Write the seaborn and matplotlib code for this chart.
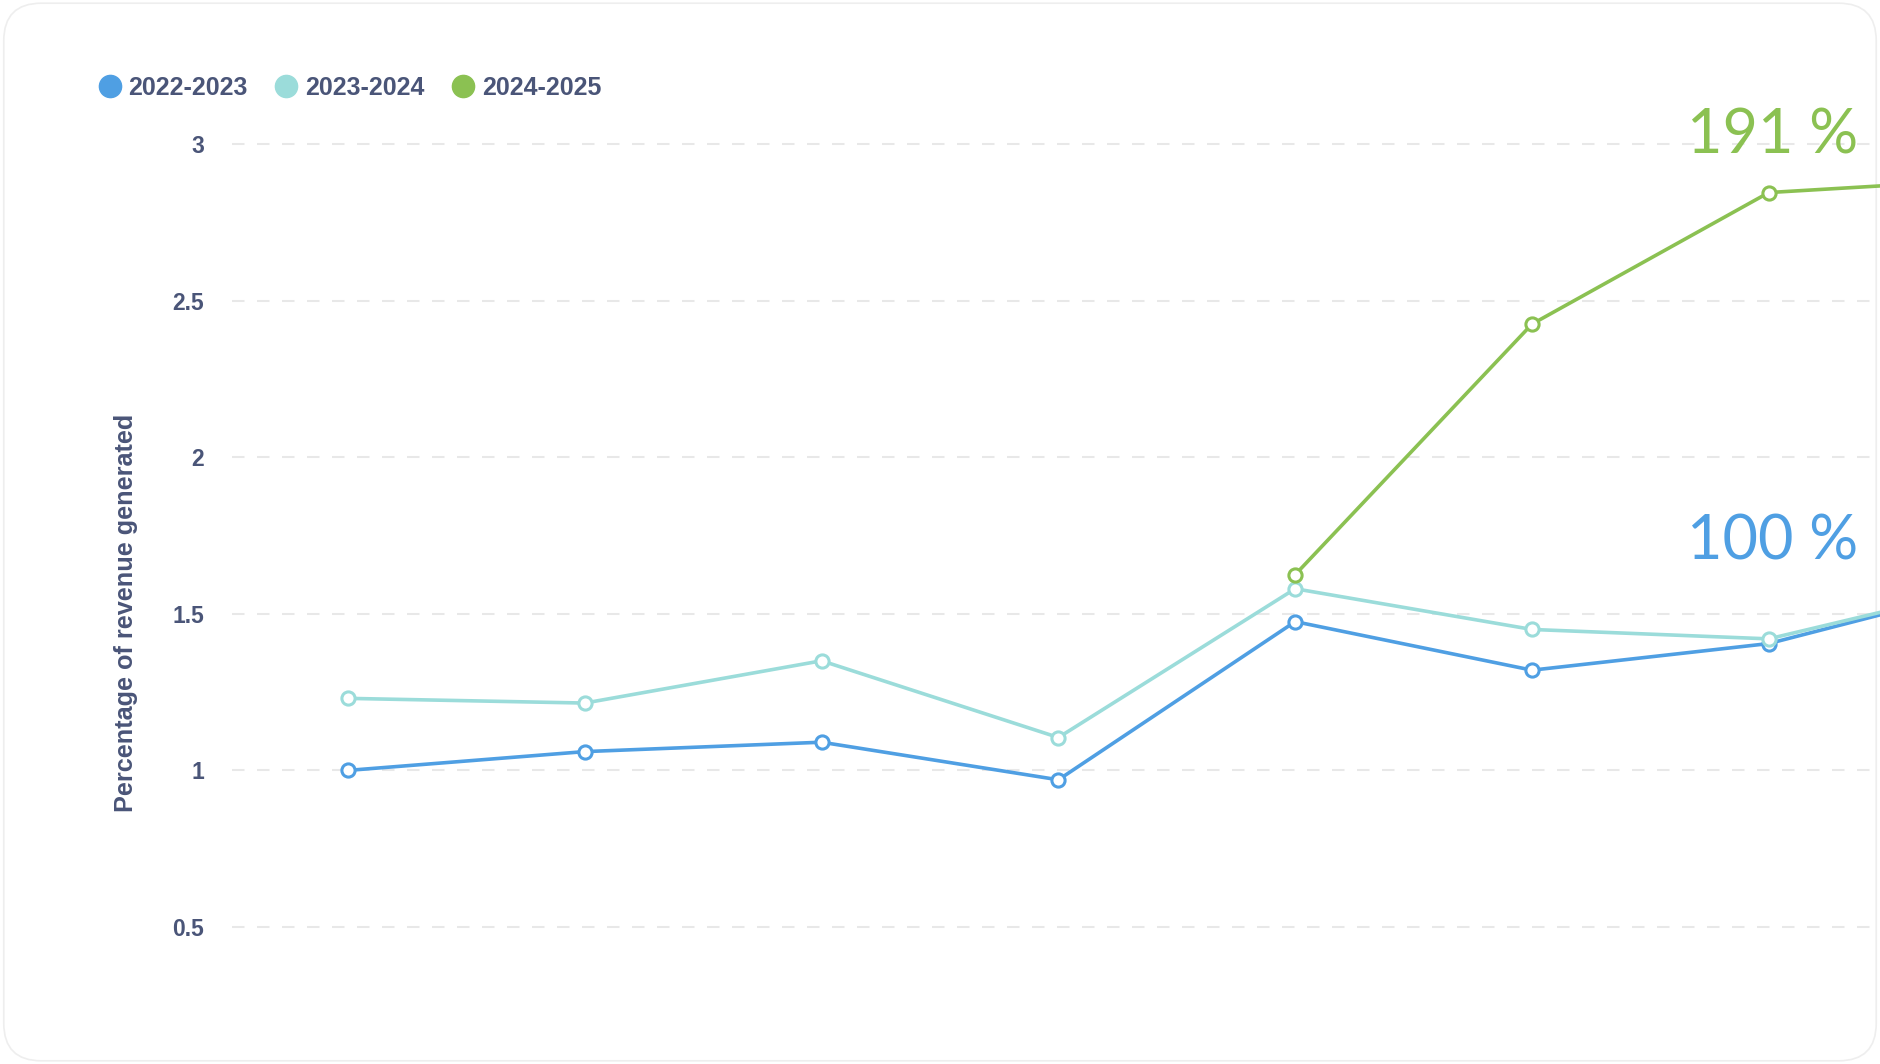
import matplotlib
matplotlib.use("Agg")
import matplotlib.pyplot as plt
from matplotlib.lines import Line2D
from matplotlib.patches import FancyBboxPatch
import seaborn as sns
import pandas as pd
import numpy as np

# ---- data ----
periods = ["P1", "P2", "P3", "P4", "P5", "P6", "P7", "P8"]
s2022_2023 = [1.00, 1.06, 1.09, 0.97, 1.475, 1.32, 1.405, 1.60]
s2023_2024 = [1.23, 1.215, 1.35, 1.105, 1.58, 1.45, 1.42, 1.60]
s2024_2025 = [None, None, None, None, 1.625, 2.425, 2.845, 2.89]
series_names = ["2022-2023", "2023-2024", "2024-2025"]
series_colors = ["#4f9fe3", "#9bdcda", "#8bc152"]
annot_texts = ["191 %", "100 %"]
y_ticks = [0.5, 1, 1.5, 2, 2.5, 3]
y_tick_labels = ["0.5", "1", "1.5", "2", "2.5", "3"]

TEXT = "#4a5578"

sns.set_theme(style="white")
plt.rcParams["font.family"] = ["Liberation Sans", "DejaVu Sans"]

W, H = 1880, 1064
fig = plt.figure(figsize=(W / 100, H / 100), dpi=100)
fig.patch.set_facecolor("white")

# card border
card = FancyBboxPatch((0.002, 0.003), 0.996, 0.994,
                      boxstyle="round,pad=0,rounding_size=0.02",
                      transform=fig.transFigure, facecolor="none",
                      edgecolor="#eeeeee", linewidth=1.2, mutation_aspect=W / H,
                      zorder=-5)
fig.patches.append(card)

left_px, right_px, top_px, bot_px = 232, 1880, 100, 1000
ax = fig.add_axes([left_px / W, 1 - bot_px / H, (right_px - left_px) / W, (bot_px - top_px) / H])
ax.set_facecolor("none")
ax.set_zorder(2)

rows = []
for name, vals in zip(series_names, [s2022_2023, s2023_2024, s2024_2025]):
    for i, v in enumerate(vals):
        if v is not None:
            rows.append({"idx": i, "value": v, "series": name})
df = pd.DataFrame(rows)

for name, col in zip(series_names, series_colors):
    sub = df[df["series"] == name]
    sns.lineplot(data=sub, x="idx", y="value", ax=ax, color=col, linewidth=2.6,
                 marker="o", markersize=9.5, markerfacecolor="white",
                 markeredgecolor=col, markeredgewidth=2.2, zorder=3)

# y axis scaling (px per unit 313.2; 3 at y=144, 0.5 at y=927)
ppu = 313.2
ax.set_ylim(0.5 - (bot_px - 927) / ppu, 3 + (144 - top_px) / ppu)
# x positions: idx0 at 348 px, spacing 236.8 px
sp = 236.8
ax.set_xlim(0 - (348 - left_px) / sp, (right_px - 348) / sp)

ax.set_yticks(y_ticks)
ax.set_yticklabels(y_tick_labels)
ax.tick_params(axis="y", length=0, pad=20, labelsize=16.5, labelcolor=TEXT)
for t in ax.get_yticklabels():
    t.set_fontweight("bold")
ax.set_xticks([])
ax.set_xlabel("")
ax.set_ylabel("Percentage of revenue generated", fontsize=18.2, fontweight="bold",
              color=TEXT)
ax.yaxis.set_label_coords((138 - left_px) / (right_px - left_px), 1 - (613 - top_px) / (bot_px - top_px))

for yv in y_ticks:
    ax.axhline(yv, color="#e8e8e8", linewidth=1.5, linestyle=(0, (6, 6)), zorder=1)
for s in ax.spines.values():
    s.set_visible(False)

# annotations
fig.text(1858 / W, 1 - 153 / H, annot_texts[0], color=series_colors[2], fontsize=44,
         ha="right", va="baseline", family=["Lato", "DejaVu Sans"])
fig.text(1858 / W, 1 - 560 / H, annot_texts[1], color=series_colors[0], fontsize=44,
         ha="right", va="baseline", family=["Lato", "DejaVu Sans"])

# legend
handles = [Line2D([0], [0], marker="o", linestyle="none", markersize=16,
                  markerfacecolor=c, markeredgecolor=c) for c in series_colors]
leg = fig.legend(handles, series_names, loc="center left",
                 bbox_to_anchor=(72 / W, 1 - 88 / H), ncol=3, frameon=False,
                 handletextpad=0.15, columnspacing=0.95, handlelength=1.2,
                 prop={"weight": "bold", "size": 18})
for t in leg.get_texts():
    t.set_color(TEXT)

fig.savefig("out.png", dpi=100, facecolor="white")
